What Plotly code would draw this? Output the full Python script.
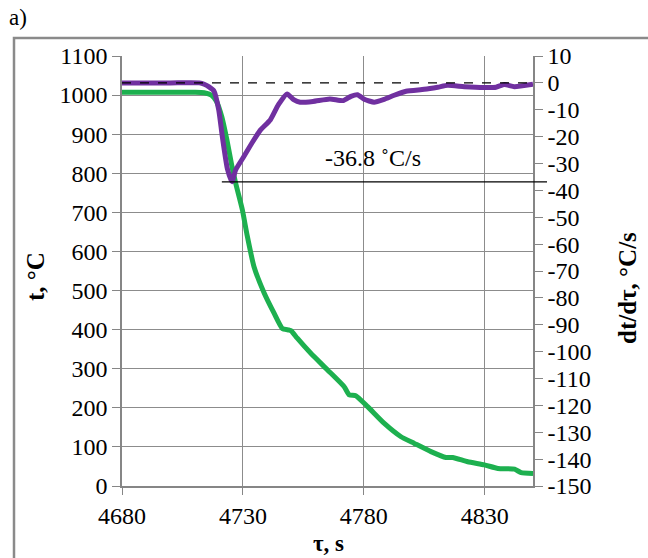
import plotly.graph_objects as go

# ---- data ----
tau_t = [4680, 4690, 4700, 4710, 4714, 4717, 4719, 4721.3, 4723.4, 4725.5, 4727, 4729.8,
         4731.8, 4734.6, 4738.7, 4742.9, 4746.3, 4749, 4750, 4752.5, 4758, 4765, 4771.9,
         4774, 4776.7, 4781.6, 4788.5, 4795.4, 4800.9, 4807.8, 4814, 4816.8, 4823, 4829.9,
         4835.5, 4842.4, 4845.1, 4850]
temp = [1007, 1007, 1007, 1007, 1006, 1000, 985, 944, 885, 817, 775, 706,
        640, 561, 495, 442, 403, 399, 397, 378, 340, 297, 254,
        233, 231, 203, 160, 126, 109, 88, 73, 73, 62, 54,
        45, 43, 34, 32]

tau_r = [4680, 4700, 4712, 4714, 4716, 4718, 4720, 4721.5, 4723.6, 4725.5, 4727, 4730.4,
         4734, 4737.3, 4741.4, 4744.7, 4748.3, 4751, 4753.7, 4759, 4766, 4771.5, 4774.7,
         4777.4, 4780.2, 4784.3, 4788.5, 4792.6, 4797.5, 4805, 4810.6, 4814.7, 4821.6,
         4829.9, 4834.7, 4838.2, 4842.3, 4850]
rate = [0, 0, 0, -0.5, -1.5, -3, -10, -20, -32, -36.8, -32.4, -27.4,
        -22, -17.5, -13.7, -8.1, -4.1, -6.2, -7.2, -6.9, -6.0, -6.6, -5.0,
        -4.4, -6.1, -7.2, -6.1, -4.6, -3.1, -2.4, -1.6, -0.9, -1.4,
        -1.7, -1.6, -0.6, -1.4, -0.5]

x_ticks = [4680, 4730, 4780, 4830]
y_ticks = list(range(0, 1101, 100))
y2_ticks = list(range(-150, 11, 10))
y2_ticktext = [str(v) for v in y2_ticks]  # plain hyphen minus as in the reference

x_range = [4680, 4850]
y_range = [0, 1100]
y2_range = [-150, 10]

min_rate = -36.8
min_tau = 4721.3
label_text = "-36.8 \u02daC/s"

FONT = "Liberation Serif"
GRID = "#8c8c8c"
AXIS = "#868686"

fig = go.Figure()
fig.add_trace(go.Scatter(x=tau_t, y=temp, mode="lines", yaxis="y",
                         line=dict(color="#1db04f", width=5, shape="spline", smoothing=0.5),
                         showlegend=False))
fig.add_trace(go.Scatter(x=tau_r, y=rate, mode="lines", yaxis="y2",
                         line=dict(color="#7030a0", width=5, shape="spline", smoothing=0.5),
                         showlegend=False))

L, R, T, B = 122, 115, 56, 72
W, H = 648, 558
pw, ph = W - L - R, H - T - B

def px_x(px):
    return (px - L) / pw

def px_y(py):
    return (H - B - py) / ph

# horizontal reference line at the minimum rate (extends slightly past the right axis)
y_min_paper = (min_rate - y2_range[0]) / (y2_range[1] - y2_range[0])
x_min_paper = (min_tau - x_range[0]) / (x_range[1] - x_range[0])

shapes = [
    dict(type="line", xref="x", yref="y2", x0=x_range[0], x1=x_range[1], y0=0, y1=0,
         line=dict(color="black", width=1.2, dash="dash"), layer="above"),
    dict(type="line", xref="paper", yref="paper", x0=x_min_paper, x1=px_x(547),
         y0=y_min_paper, y1=y_min_paper, line=dict(color="black", width=1.3), layer="above"),
    # outer frame
    dict(type="rect", xref="paper", yref="paper", x0=px_x(14), x1=px_x(700),
         y0=px_y(620), y1=px_y(38), line=dict(color="#8a8a8a", width=2.5), layer="below"),
]

title_font = dict(family=FONT, size=25, color="black")
annotations = [
    dict(x=4784, y=-28, xref="x", yref="y2", text=label_text, showarrow=False,
         xanchor="center", yanchor="middle",
         font=dict(family=FONT, size=24, color="black")),
    dict(x=px_x(7), y=px_y(17), xref="paper", yref="paper", text="a)", showarrow=False,
         xanchor="left", yanchor="middle", font=dict(family=FONT, size=23, color="black")),
    dict(x=px_x(35), y=px_y(277), xref="paper", yref="paper", text="<b>t, °C</b>",
         showarrow=False, textangle=-90, xanchor="center", yanchor="middle", font=title_font),
    dict(x=px_x(627), y=px_y(288), xref="paper", yref="paper", text="<b>dt/dτ, °C/s</b>",
         showarrow=False, textangle=-90, xanchor="center", yanchor="middle", font=title_font),
    dict(x=px_x(328), y=px_y(543), xref="paper", yref="paper", text="<b>τ, s</b>",
         showarrow=False, xanchor="center", yanchor="middle",
         font=dict(family=FONT, size=23, color="black")),
]

tickfont = dict(family=FONT, size=24, color="black")

fig.update_layout(
    width=W, height=H,
    margin=dict(l=L, r=R, t=T, b=B, pad=0),
    paper_bgcolor="white", plot_bgcolor="white",
    xaxis=dict(range=x_range, tickvals=x_ticks, showgrid=True, gridcolor=GRID, gridwidth=1.3,
               showline=True, linecolor=AXIS, linewidth=1.5, ticks="outside", ticklen=7,
               tickcolor=AXIS, tickwidth=1.3, zeroline=False, tickfont=tickfont),
    yaxis=dict(range=y_range, tickvals=y_ticks, showgrid=True, gridcolor=GRID, gridwidth=1.3,
               showline=True, linecolor=AXIS, linewidth=1.5, ticks="outside", ticklen=8,
               tickcolor=AXIS, tickwidth=1.3, zeroline=False, tickfont=tickfont),
    yaxis2=dict(range=y2_range, tickvals=y2_ticks, ticktext=y2_ticktext, overlaying="y",
                side="right", showgrid=False, showline=True, linecolor=AXIS, linewidth=1.5,
                ticks="outside", ticklen=8, tickcolor=AXIS, tickwidth=1.3, zeroline=False,
                tickfont=tickfont),
    shapes=shapes,
    annotations=annotations,
)

fig.write_html("out.html")
